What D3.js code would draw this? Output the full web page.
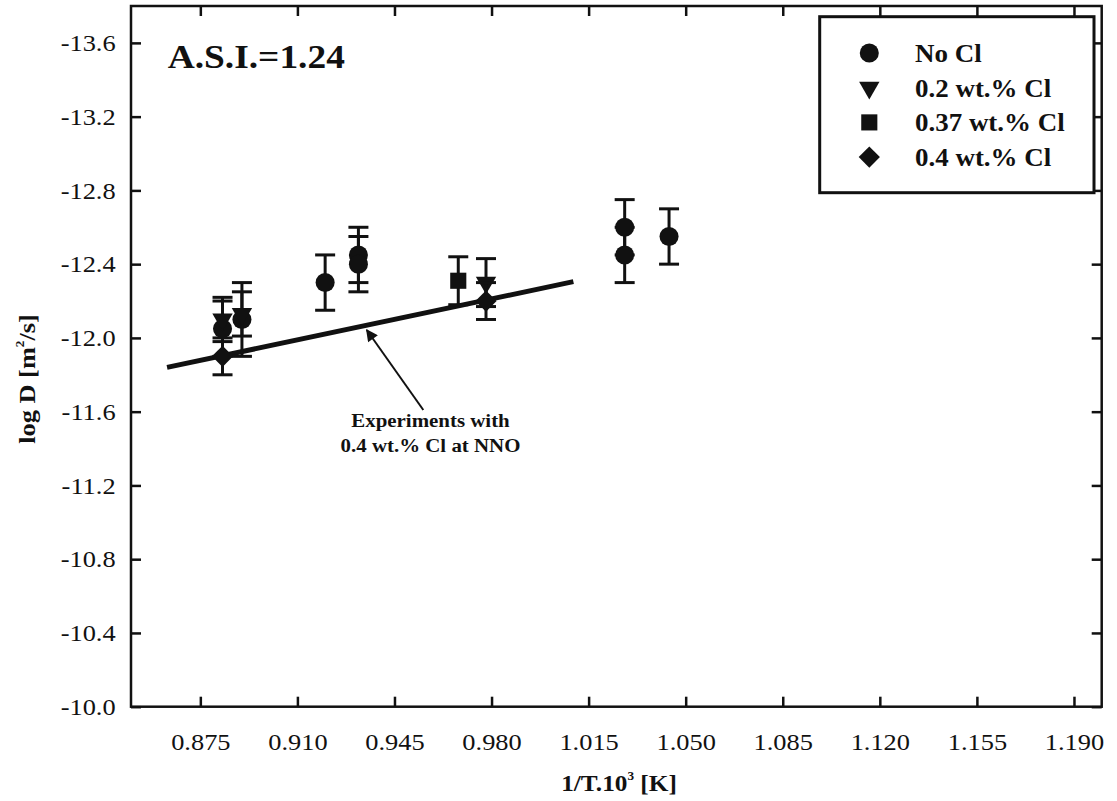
<!DOCTYPE html>
<html>
<head>
<meta charset="utf-8">
<script src="https://cdn.jsdelivr.net/npm/d3@7"></script>
<style>
  body { margin: 0; background: #fff; }
  text { font-family: "Liberation Serif", "Times New Roman", serif; fill: #111; }
</style>
</head>
<body>
<script>
// Tick values of both axes
var xTicks = [0.875, 0.910, 0.945, 0.980, 1.015, 1.050, 1.085, 1.120, 1.155, 1.190],
    yTicks = [-10.0, -10.4, -10.8, -11.2, -11.6, -12.0, -12.4, -12.8, -13.2, -13.6];

// No Cl
var noClX = [0.883, 0.890, 0.920, 0.932, 0.932, 1.028, 1.028, 1.044],
    noClY = [-12.05, -12.10, -12.30, -12.45, -12.40, -12.60, -12.45, -12.55],
    noClErr = [0.15, 0.20, 0.15, 0.15, 0.15, 0.15, 0.15, 0.15];

// 0.2 wt.% Cl
var cl02X = [0.883, 0.890, 0.978],
    cl02Y = [-12.10, -12.13, -12.30],
    cl02Err = [0.12, 0.12, 0.13];

// 0.37 wt.% Cl
var cl037X = [0.968],
    cl037Y = [-12.31],
    cl037Err = [0.13];

// 0.4 wt.% Cl
var cl04X = [0.883, 0.978],
    cl04Y = [-11.90, -12.20],
    cl04Err = [0.10, 0.10];

// Fitted line for the 0.4 wt.% Cl experiments at NNO
var fitX = [0.863, 1.0095],
    fitY = [-11.84, -12.305];

// Arrow of the note: tail, head
var arrowX = [0.9554, 0.935],
    arrowY = [-11.609, -12.043];

var seriesNames = ["No Cl", "0.2 wt.% Cl", "0.37 wt.% Cl", "0.4 wt.% Cl"];

// Margins
var margin = { top: 6, right: 15.3, bottom: 94.3, left: 131 },
    width = 1117 - margin.left - margin.right,
    height = 801 - margin.top - margin.bottom;

var stretch = 1.1; // the source type is a bit wide

var svg = d3.select("body").append("svg")
    .attr("width", 1117)
    .attr("height", 801);

var g = svg.append("g")
    .attr("transform", "translate(" + margin.left + "," + margin.top + ")");

var x = d3.scaleLinear().domain([0.85, 1.20]).range([0, width]);
var y = d3.scaleLinear().domain([-10.0, -13.8]).range([height, 0]);

// Axes with inward ticks
g.append("g")
    .attr("transform", "translate(0," + height + ")")
    .call(d3.axisBottom(x).tickValues(xTicks).tickSizeInner(-10).tickSizeOuter(0)
        .tickPadding(26).tickFormat(function(d) { return d.toFixed(3); }));

g.append("g")
    .call(d3.axisLeft(y).tickValues(yTicks).tickSizeInner(-10).tickSizeOuter(0)
        .tickPadding(14).tickFormat(function(d) { return d.toFixed(1); }));

g.append("g")
    .call(d3.axisTop(x).tickValues(xTicks).tickSizeInner(-10).tickSizeOuter(0).tickFormat(""));

g.append("g")
    .attr("transform", "translate(" + width + ",0)")
    .call(d3.axisRight(y).tickValues(yTicks).tickSizeInner(-10).tickSizeOuter(0).tickFormat(""));

g.selectAll(".tick line").attr("stroke", "#111").attr("stroke-width", 2.5);
g.selectAll(".domain").remove();
g.selectAll(".tick text")
    .attr("font-family", "Liberation Serif, Times New Roman, serif")
    .attr("font-size", 24)
    .attr("fill", "#111")
    .attr("transform", "scale(" + stretch + ",1)");

// Frame
g.append("rect")
    .attr("width", width)
    .attr("height", height)
    .attr("fill", "none")
    .attr("stroke", "#111")
    .attr("stroke-width", 2.5);

// Fit line
var line = d3.line()
    .x(function(d) { return x(d[0]); })
    .y(function(d) { return y(d[1]); });

g.append("path")
    .datum(d3.zip(fitX, fitY))
    .attr("d", line)
    .attr("fill", "none")
    .attr("stroke", "#111")
    .attr("stroke-width", 5);

// Symbols
var symbols = [
    { type: d3.symbolCircle, size: 285, rotate: 0 },
    { type: d3.symbolTriangle, size: 180, rotate: 180 },
    { type: d3.symbolSquare, size: 260, rotate: 0 },
    { type: d3.symbolSquare, size: 225, rotate: 45 }
];

var series = [
    d3.zip(noClX, noClY, noClErr),
    d3.zip(cl02X, cl02Y, cl02Err),
    d3.zip(cl037X, cl037Y, cl037Err),
    d3.zip(cl04X, cl04Y, cl04Err)
];

series.forEach(function(pts, i) {
    var sym = symbols[i];
    var grp = g.append("g");

    // Error bars
    pts.forEach(function(p) {
        var cx = x(p[0]),
            top = y(p[1] - p[2]),
            bot = y(p[1] + p[2]);
        grp.append("line")
            .attr("x1", cx).attr("x2", cx).attr("y1", top).attr("y2", bot)
            .attr("stroke", "#111").attr("stroke-width", 3);
        [top, bot].forEach(function(yy) {
            grp.append("line")
                .attr("x1", cx - 10).attr("x2", cx + 10).attr("y1", yy).attr("y2", yy)
                .attr("stroke", "#111").attr("stroke-width", 3);
        });
    });

    grp.selectAll("path.pt").data(pts).enter().append("path")
        .attr("class", "pt")
        .attr("d", d3.symbol().type(sym.type).size(sym.size))
        .attr("transform", function(d) {
            return "translate(" + x(d[0]) + "," + y(d[1]) + ") rotate(" + sym.rotate + ")";
        })
        .attr("fill", "#111");
});

// Arrow
svg.append("defs").append("marker")
    .attr("id", "head")
    .attr("viewBox", "0 0 10 10")
    .attr("refX", 9).attr("refY", 5)
    .attr("markerWidth", 7).attr("markerHeight", 6)
    .attr("markerUnits", "strokeWidth")
    .attr("orient", "auto")
    .append("path")
    .attr("d", "M0,0 L10,5 L0,10 z")
    .attr("fill", "#111");

g.append("line")
    .attr("x1", x(arrowX[0])).attr("y1", y(arrowY[0]))
    .attr("x2", x(arrowX[1])).attr("y2", y(arrowY[1]))
    .attr("stroke", "#111").attr("stroke-width", 2)
    .attr("marker-end", "url(#head)");

// Helper for stretched text
function label(parent, txt, px, py, size, anchor) {
    return parent.append("text")
        .attr("transform", "translate(" + px + "," + py + ") scale(" + stretch + ",1)")
        .attr("font-size", size)
        .attr("font-weight", "bold")
        .attr("text-anchor", anchor || "start")
        .text(txt);
}

label(svg, "Experiments with", 430.5, 427.3, 19, "middle");
label(svg, "0.4 wt.% Cl at NNO", 430.5, 451.7, 19, "middle");

label(svg, "A.S.I.=1.24", 167.7, 68.3, 34);

// Axis titles
var xt = label(svg, "1/T.10", 619, 791, 23, "middle");
xt.append("tspan").attr("font-size", 12).attr("dy", -11).text("3");
xt.append("tspan").attr("dy", 11).text(" [K]");

var yt = svg.append("text")
    .attr("transform", "translate(35,379) rotate(-90) scale(" + stretch + ",1)")
    .attr("font-size", 24)
    .attr("font-weight", "bold")
    .attr("text-anchor", "middle");
yt.append("tspan").text("log D [m");
yt.append("tspan").attr("font-size", 12).attr("dy", -11).text("2");
yt.append("tspan").attr("dy", 11).text("/s]");

// Legend
var legend = svg.append("g");
legend.append("rect")
    .attr("x", 819.7).attr("y", 16.7)
    .attr("width", 274.3).attr("height", 176)
    .attr("fill", "#fff")
    .attr("stroke", "#111")
    .attr("stroke-width", 3);

seriesNames.forEach(function(name, i) {
    var cy = 53 + i * 34.7;
    var sym = symbols[i];
    legend.append("path")
        .attr("d", d3.symbol().type(sym.type).size(sym.size))
        .attr("transform", "translate(869.3," + cy + ") rotate(" + sym.rotate + ")")
        .attr("fill", "#111");
    label(legend, name, 915, cy + 9, 24.5);
});
</script>
</body>
</html>
